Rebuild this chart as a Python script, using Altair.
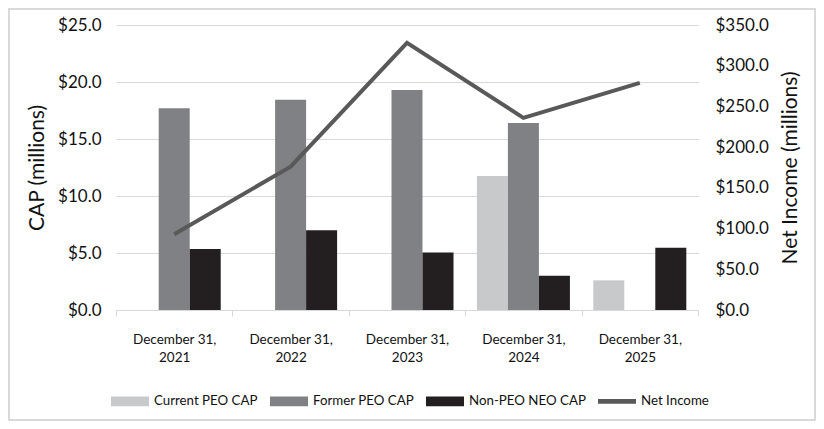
import altair as alt
import pandas as pd

categories = ["December 31, 2021", "December 31, 2022", "December 31, 2023",
              "December 31, 2024", "December 31, 2025"]
series_names = ["Current PEO CAP", "Former PEO CAP", "Non-PEO NEO CAP"]
current_peo = [None, None, None, 11.75, 2.6]
former_peo = [17.7, 18.45, 19.3, 16.4, None]
non_peo = [5.35, 7.0, 5.05, 3.0, 5.45]
net_income = [93, 176, 328, 236, 279]

bar_colors = ["#c8c9cb", "#808184", "#231f20"]
line_color = "#595959"
FONT = "Lato"
TXT = "#111111"

rows = []
for name, vals in zip(series_names, [current_peo, former_peo, non_peo]):
    for c, v in zip(categories, vals):
        if v is not None:
            rows.append({"cat": c, "series": name, "value": v})
bars_df = pd.DataFrame(rows)
line_df = pd.DataFrame({"cat": categories, "ni": net_income})
legend_names = series_names + ["Net Income"]
legend_df = pd.DataFrame({"item": legend_names})

x_enc = alt.X("cat:N", sort=categories, title=None,
              scale=alt.Scale(paddingInner=0, paddingOuter=0),
              axis=alt.Axis(labelExpr="[substring(datum.label, 0, 12), substring(datum.label, 13)]",
                            labelAngle=0, labelFont=FONT, labelFontSize=13.5, labelColor=TXT,
                            labelPadding=16, labelLineHeight=18, tickBand="extent",
                            tickColor="#d9d9d9", tickSize=6, domainColor="#d9d9d9",
                            domainWidth=1, grid=False))

bars = alt.Chart(bars_df).mark_bar().encode(
    x=x_enc,
    xOffset=alt.XOffset("series:N", scale=alt.Scale(domain=series_names, paddingOuter=0.377,
                                                    paddingInner=0)),
    y=alt.Y("value:Q", title="CAP (millions)",
            scale=alt.Scale(domain=[0, 25], nice=False),
            axis=alt.Axis(values=[0, 5, 10, 15, 20, 25], format="$.1f", labelFont=FONT,
                          labelFontSize=17, labelColor=TXT, labelPadding=15, ticks=False,
                          domain=False, gridColor="#d9d9d9", titleFont=FONT, titleFontSize=21,
                          titleFontWeight="normal", titleColor=TXT, titlePadding=10)),
    color=alt.Color("series:N", scale=alt.Scale(domain=series_names, range=bar_colors),
                    legend=None),
)

line = alt.Chart(line_df).mark_line(color=line_color, strokeWidth=4, strokeJoin="miter").encode(
    x=alt.X("cat:N", sort=categories),
    y=alt.Y("ni:Q", title="Net Income (millions)",
            scale=alt.Scale(domain=[0, 350], nice=False),
            axis=alt.Axis(values=[0, 50, 100, 150, 200, 250, 300, 350], format="$.1f",
                          orient="right", labelFont=FONT, labelFontSize=17, labelColor=TXT,
                          labelPadding=17, ticks=False, domain=False, grid=False,
                          titleFont=FONT, titleFontSize=21, titleFontWeight="normal",
                          titleColor=TXT, titlePadding=32, titleAngle=270)),
)

bar_shape = "M-1,-0.26H1V0.26H-1Z"
line_shape = "M-1,-0.12H1V0.12H-1Z"
leg = dict(title=None, orient="none", direction="horizontal",
           legendX=-5, legendY=357, symbolSize=1444,
           symbolOpacity=1, symbolStrokeWidth=0,
           labelFont=FONT, labelFontSize=13.3, labelColor=TXT,
           labelOffset=5, columnPadding=12)
legend_layer = alt.Chart(legend_df).mark_point(filled=True, opacity=0).encode(
    fill=alt.Fill("item:N", sort=legend_names,
                  scale=alt.Scale(domain=legend_names, range=bar_colors + [line_color]),
                  legend=alt.Legend(**leg)),
    shape=alt.Shape("item:N", sort=legend_names,
                    scale=alt.Scale(domain=legend_names,
                                    range=[bar_shape, bar_shape, bar_shape, line_shape]),
                    legend=alt.Legend(**leg)),
)

border = alt.Chart(pd.DataFrame({"a": [0]})).mark_rect(
    fill=None, stroke="#d9d9d9", strokeWidth=2
).encode(x=alt.value(-107), x2=alt.value(699), y=alt.value(-16), y2=alt.value(395))

left = alt.layer(bars, legend_layer)
chart = alt.layer(left, line, border).resolve_scale(
    y="independent", color="independent", fill="independent", shape="independent"
).properties(
    width=582, height=285,
    padding={"left": 108, "top": 17, "right": 118, "bottom": 111},
    autosize=alt.AutoSizeParams(type="none"),
    background="white",
).configure_view(stroke=None)

chart.save("out.html", embed_options={"renderer": "svg", "actions": False})
